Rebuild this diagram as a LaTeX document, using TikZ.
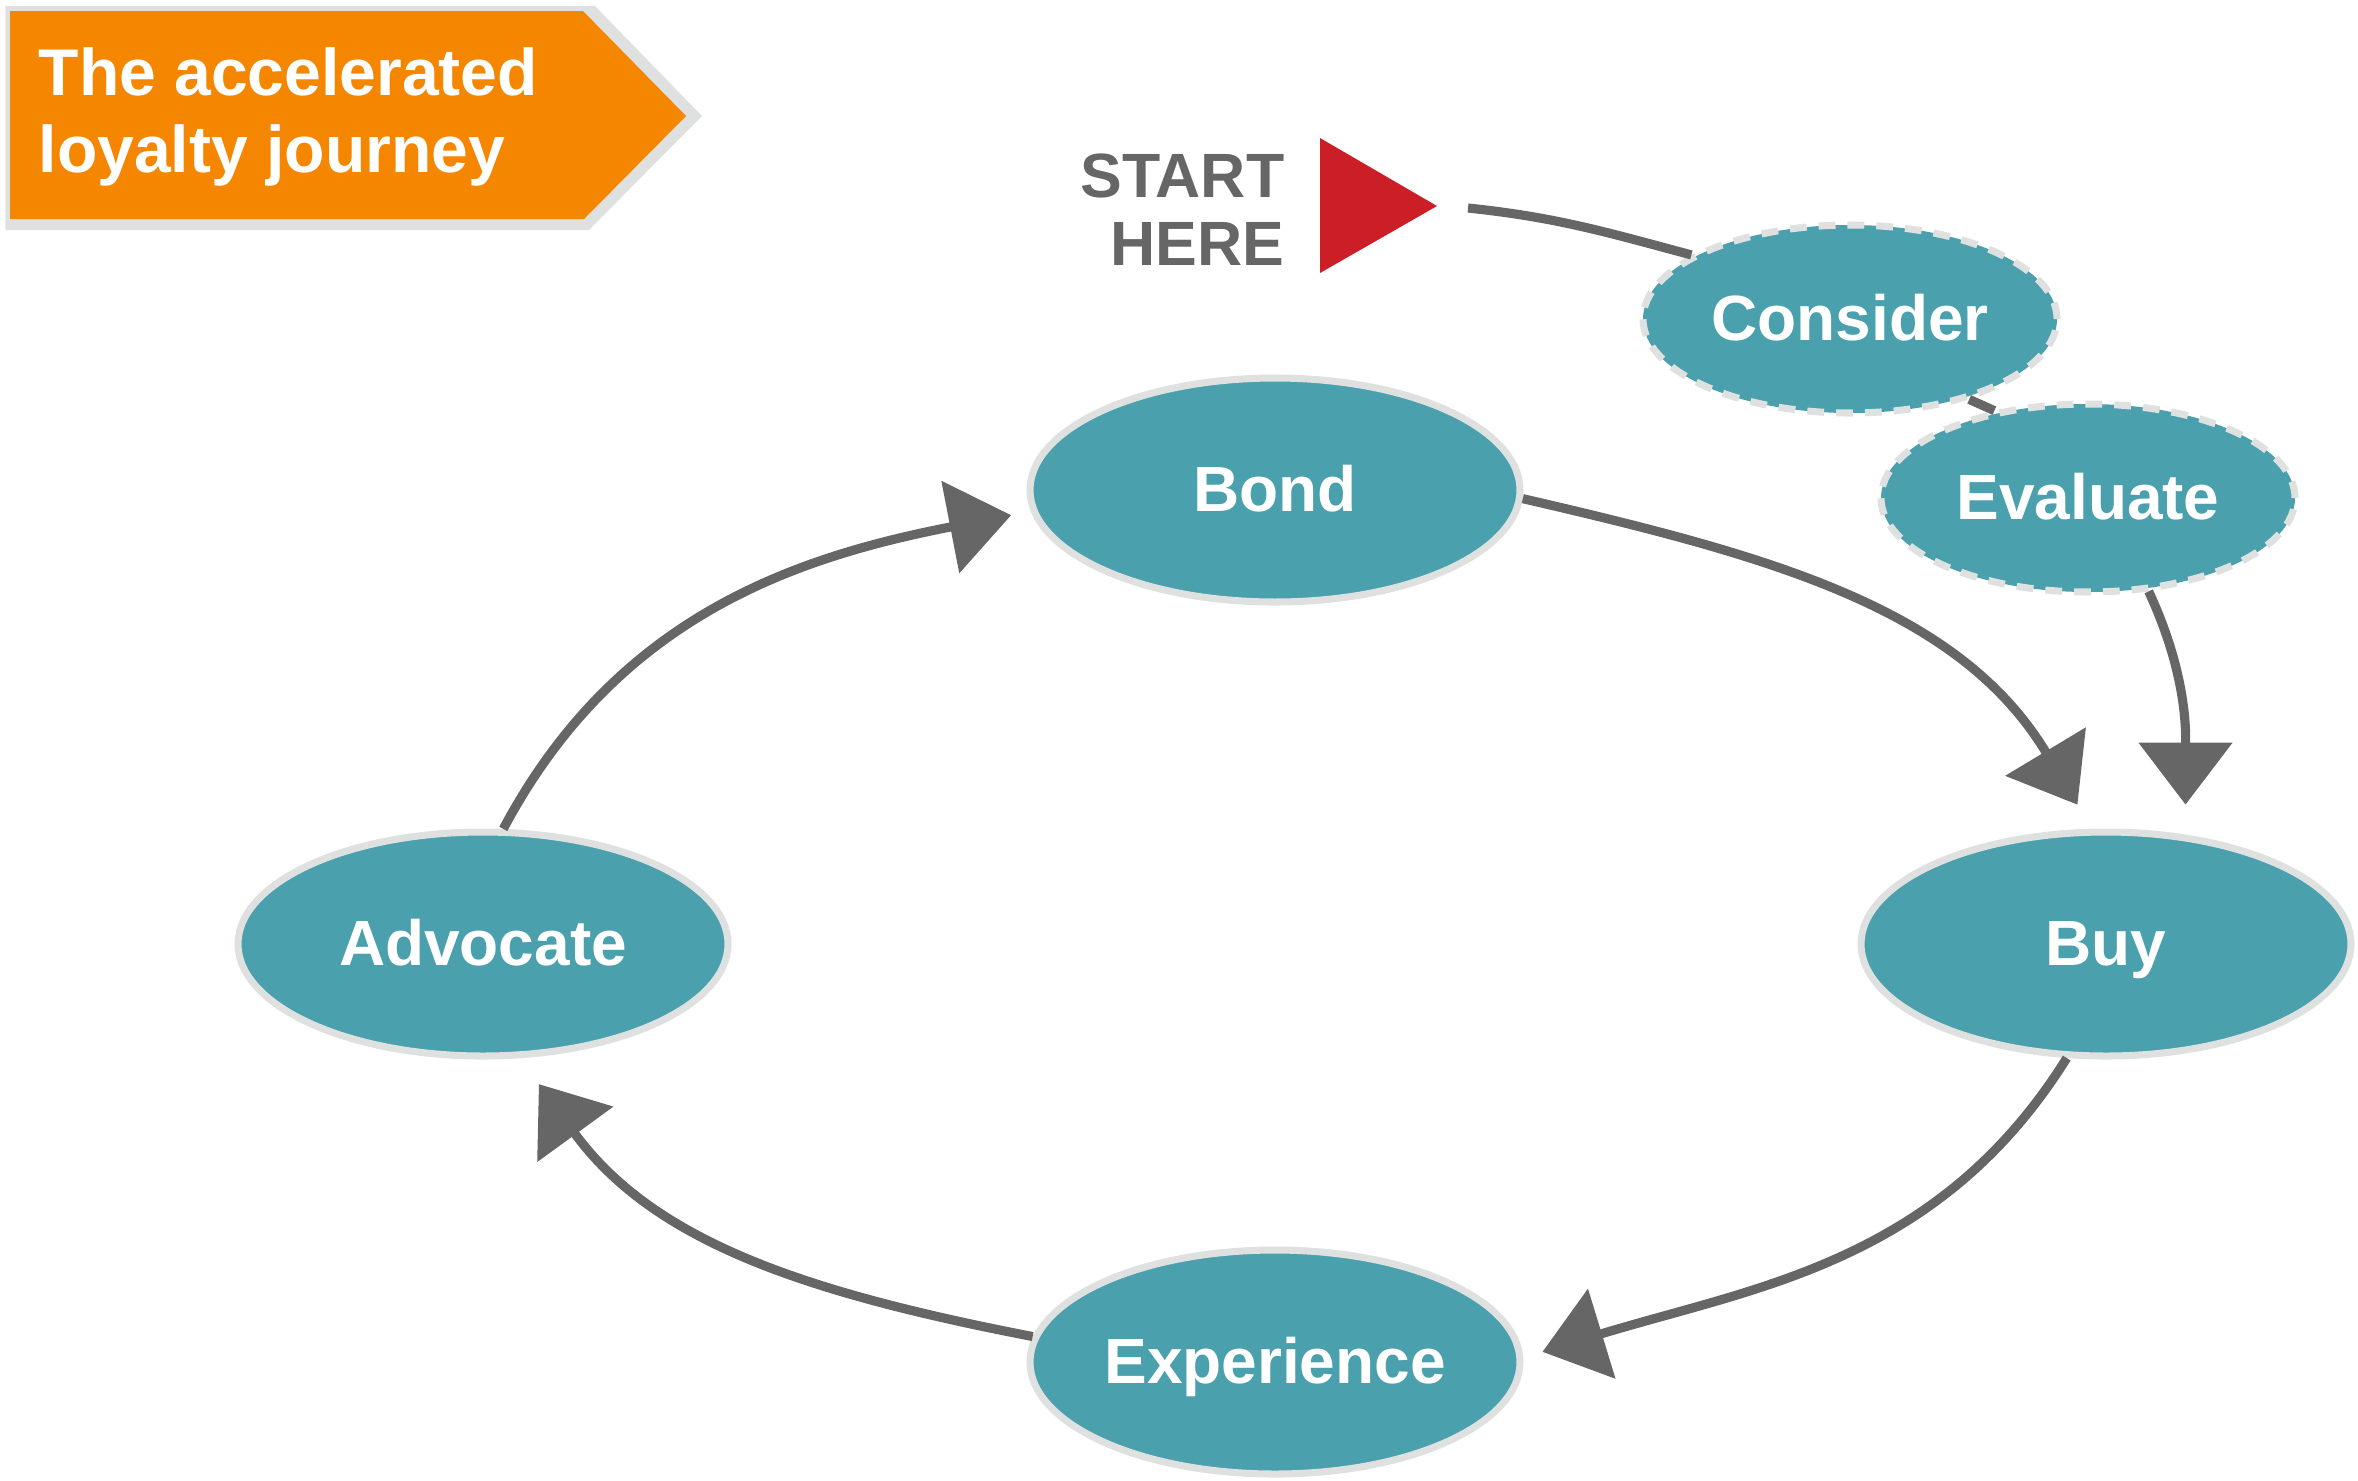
\documentclass[tikz,border=0pt]{standalone}
\usepackage{fontspec}
\setmainfont{Liberation Sans}
\usepackage{tikz}
\usetikzlibrary{arrows.meta,shapes.geometric,positioning}
\usepackage{xcolor}
\definecolor{stagefill}{RGB}{74,160,173}
\definecolor{rimgray}{RGB}{222,225,224}
\definecolor{flowgray}{RGB}{102,102,102}
\definecolor{bannerorange}{RGB}{245,134,0}
\definecolor{startred}{RGB}{204,30,38}

\begin{document}
\begin{tikzpicture}[
  stage/.style={ellipse,fill=stagefill,draw=rimgray,line width=2pt,minimum width=4.90cm,minimum height=2.24cm,
    inner sep=0pt,text=white,text height=12pt,text depth=0pt,font=\fontsize{18.2}{22}\selectfont\bfseries},
  option/.style={stage,dash pattern=on 4.8pt off 3.4pt,line width=2pt,minimum width=4.14cm,minimum height=1.88cm},
  flow/.style={draw=flowgray,line width=2.6pt,-{Triangle[length=0.62cm,width=0.92cm]}},
  link/.style={draw=flowgray,line width=2.6pt}]
  \useasboundingbox (0,0) rectangle (23.58,-14.80);
  % banner
  \fill[rimgray] (0.055,-0.06) -- (5.95,-0.06) -- (7.02,-1.16) -- (5.89,-2.30) -- (0.055,-2.30) -- cycle;
  \fill[bannerorange] (0.10,-0.11) -- (5.83,-0.11) -- (6.86,-1.16) -- (5.84,-2.19) -- (0.10,-2.19) -- cycle;
  \node[anchor=base west,align=left,inner sep=0pt,text=white,font=\fontsize{18.8}{21.9}\selectfont\bfseries] (title) at (0.38,-1.72) {The accelerated\\loyalty journey};
  % start marker
  \node[anchor=base east,align=right,inner sep=0pt,text=flowgray,font=\fontsize{17.8}{19.3}\selectfont\bfseries] (starthere) at (12.85,-2.65) {START\\HERE};
  \fill[startred] (13.20,-1.38) -- (14.37,-2.06) -- (13.20,-2.73) -- cycle;
  \coordinate (start) at (14.68,-2.08);
  % stages
  \node[stage] (bond) at (12.75,-4.90) {Bond};
  \node[stage] (buy) at (21.06,-9.44) {Buy};
  \node[stage] (experience) at (12.75,-13.62) {Experience};
  \node[stage] (advocate) at (4.83,-9.44) {Advocate};
  \node[option] (consider) at (18.50,-3.19) {Consider};
  \node[option] (evaluate) at (20.88,-4.98) {Evaluate};
  % connectors
  \draw[link] (start) to[out=-6,in=165] (consider.158);
  \draw[link] (consider.-34) -- (evaluate.137);
  \draw[flow,shorten >=0.30cm] (evaluate.-57) to[out=-65,in=90] (buy.54);
  \draw[flow,shorten >=0.28cm] (bond.-2) to[out=-13,in=121] (buy.97);
  \draw[flow,shorten >=0.20cm] (buy.-109) to[out=-122,in=17] (experience.1);
  \draw[flow,shorten >=0.32cm] (experience.174) to[out=169,in=-54] (advocate.-72);
  \draw[flow,shorten >=0.20cm] (advocate.80) to[out=62,in=191] (bond.185);
\end{tikzpicture}
\end{document}
